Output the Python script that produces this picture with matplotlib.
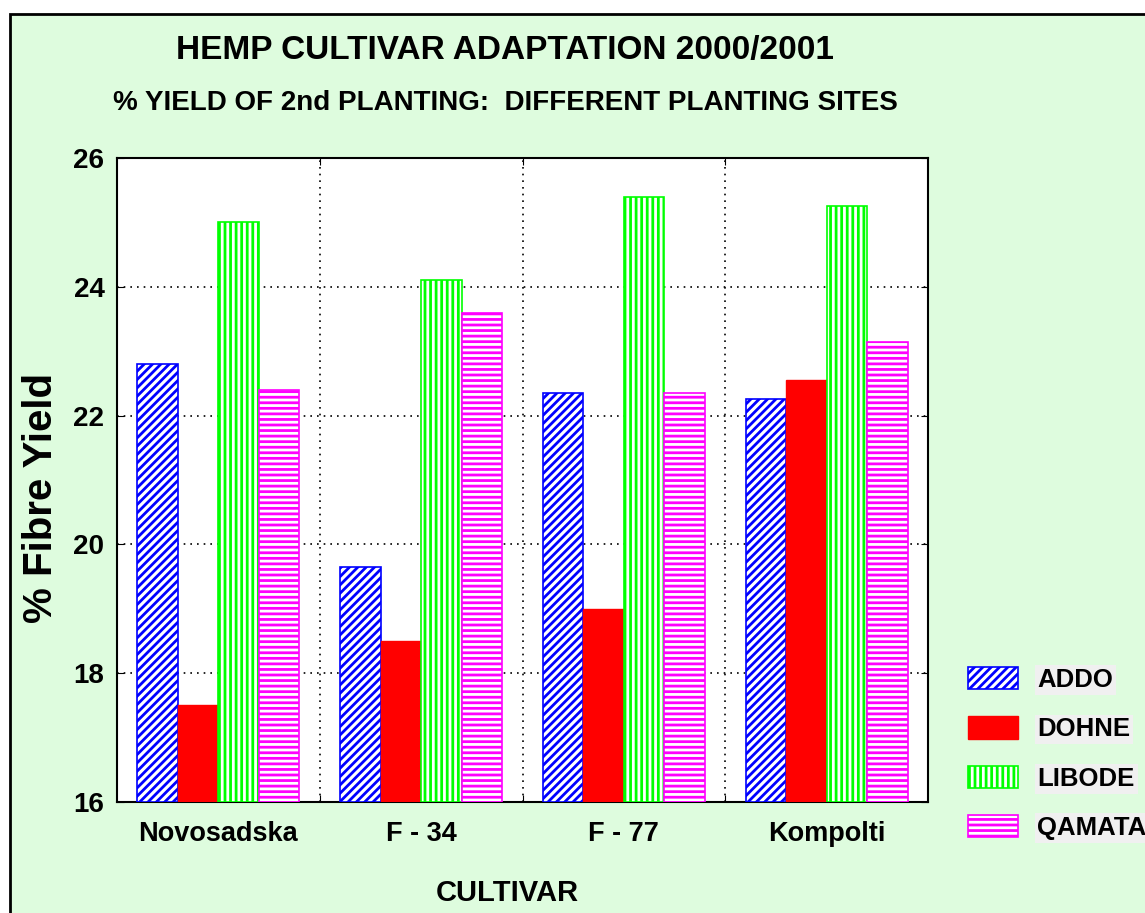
import matplotlib
matplotlib.use("Agg")
import matplotlib.pyplot as plt
from matplotlib.patches import Rectangle
import numpy as np

cultivars = ["Novosadska", "F - 34", "F - 77", "Kompolti"]
sites = ["ADDO", "DOHNE", "LIBODE", "QAMATA"]
addo = [22.8, 19.65, 22.35, 22.25]
dohne = [17.5, 18.5, 19.0, 22.55]
libode = [25.0, 24.1, 25.4, 25.25]
qamata = [22.4, 23.6, 22.35, 23.15]
yticks = [16, 18, 20, 22, 24, 26]

series = [addo, dohne, libode, qamata]
colors = ["#0000ff", "#ff0000", "#00ff00", "#ff00ff"]
hatches = ["////", None, "|||", "---"]

plt.rcParams["hatch.linewidth"] = 2.0
narrow = ["Liberation Sans Narrow", "Liberation Sans", "DejaVu Sans"]
wide = ["Liberation Sans", "DejaVu Sans"]

W, H = 1145, 913
fig = plt.figure(figsize=(W / 100, H / 100), dpi=100)
fig.patch.set_facecolor("white")
bg = Rectangle((10 / W, -0.05), 1.2, 1 - 14 / H + 0.05, transform=fig.transFigure,
               facecolor="#defcde", edgecolor="black", linewidth=2, zorder=-10)
fig.add_artist(bg)

ax = fig.add_axes([117 / W, 1 - 802 / H, (928 - 117) / W, (802 - 158) / H])
ax.set_facecolor("white")

n = len(cultivars)
x = np.arange(n)
bw = 0.2
for i, (vals, c, h, name) in enumerate(zip(series, colors, hatches, sites)):
    pos = x - 0.3 + i * bw
    if h is None:
        ax.bar(pos, np.array(vals) - 16, bw, bottom=16, color=c, edgecolor=c,
               linewidth=1, label=name, zorder=3)
    else:
        ax.bar(pos, np.array(vals) - 16, bw, bottom=16, facecolor="white", edgecolor=c,
               hatch=h, linewidth=1.2, label=name, zorder=3)

ax.set_xlim(-0.5, n - 0.5)
ax.set_ylim(16, 26)
ax.set_yticks(yticks)
ax.set_yticklabels([str(v) for v in yticks], fontsize=20, fontweight="bold", family=narrow)
ax.set_xticks(np.arange(n - 1) + 0.5)
ax.set_xticklabels([])
ax.set_xticks(x, minor=True)
ax.set_xticklabels(cultivars, minor=True, fontsize=19.5, fontweight="bold", family=narrow)
ax.tick_params(axis="x", which="minor", length=0, pad=14)
ax.tick_params(axis="x", which="major", direction="in", top=True, bottom=True, length=5)
ax.tick_params(axis="y", direction="in", left=True, right=True, length=5, pad=9)
ax.grid(True, which="major", linestyle=(0, (1, 3)), color="black", linewidth=1.2, zorder=1)
ax.set_axisbelow(True)
for s in ax.spines.values():
    s.set_linewidth(1.5)

fig.text(505 / W, 1 - 47 / H, "HEMP CULTIVAR ADAPTATION 2000/2001", ha="center", va="center_baseline",
         fontsize=24, fontweight="bold", family=narrow)
fig.text(505 / W, 1 - 103 / H, "% YIELD OF 2nd PLANTING:  DIFFERENT PLANTING SITES", ha="center",
         va="center", fontsize=20, fontweight="bold", family=narrow)
fig.text(41 / W, 1 - 498 / H, "% Fibre Yield", rotation=90, ha="center", va="center",
         fontsize=29, fontweight="bold", family=wide)
fig.text(507 / W, 1 - 893 / H, "CULTIVAR", ha="center", va="center",
         fontsize=21, fontweight="bold", family=narrow)

leg = fig.legend(loc="upper left", bbox_to_anchor=(945 / W, 1 - 644 / H), frameon=False,
                 prop={"family": narrow, "weight": "bold", "size": 18.5},
                 handlelength=1.95, handleheight=0.95, labelspacing=0.95, handletextpad=0.75)
for t in leg.get_texts():
    t.set_bbox(dict(facecolor="#f0f0f0", edgecolor="none", pad=2))

fig.savefig("out.png", dpi=100)
